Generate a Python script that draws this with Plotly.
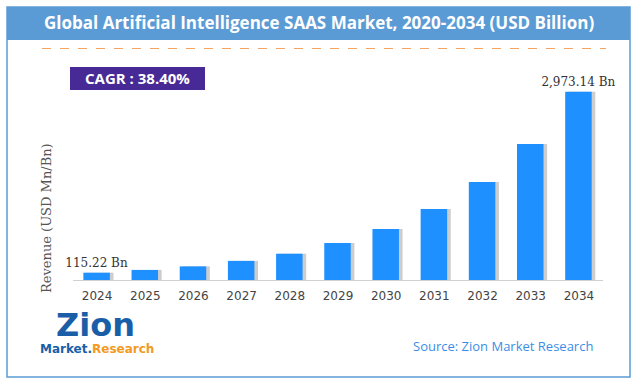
import plotly.graph_objects as go

years = ["2024", "2025", "2026", "2027", "2028", "2029", "2030", "2031", "2032", "2033", "2034"]
revenue = [115.22, 159.0, 215.0, 302.0, 415.0, 585.0, 806.0, 1122.0, 1549.0, 2149.0, 2973.14]
label_texts = ["115.22 Bn", "", "", "", "", "", "", "", "", "", "2,973.14 Bn"]

W, H = 637, 382
def px(x): return x / W
def py(y): return 1 - y / H

fig = go.Figure()
# shadow
fig.add_trace(go.Bar(x=years, y=revenue, width=0.56, offset=-0.22,
                     marker=dict(color="rgba(90,90,90,0.3)", line=dict(width=0)),
                     hoverinfo="skip", showlegend=False))
fig.add_trace(go.Bar(x=years, y=revenue, width=0.55, offset=-0.285,
                     marker=dict(color="#1e90ff", line=dict(width=0)),
                     text=label_texts, textposition="outside", cliponaxis=False,
                     constraintext="none",
                     textfont=dict(family="DejaVu Serif", size=12, color="#333"),
                     showlegend=False))

fig.update_layout(
    width=W, height=H, margin=dict(l=0, r=0, t=0, b=0),
    paper_bgcolor="white", plot_bgcolor="white",
    barmode="overlay", bargap=0.4,
    xaxis=dict(domain=[px(73), px(603)], showline=True, linecolor="#d0d0d0", linewidth=1,
               ticks="", ticklabelstandoff=5,
               tickfont=dict(family="DejaVu Sans", size=12, color="#444"),
               showgrid=False, fixedrange=True),
    yaxis=dict(domain=[py(280), py(80)], range=[0, 3160], visible=False, showgrid=False),
    shapes=[
        dict(type="rect", xref="paper", yref="paper", x0=px(7), x1=px(630), y0=py(377), y1=py(7),
             line=dict(color="#5b9bd5", width=1.5), fillcolor="rgba(0,0,0,0)", layer="below"),
        dict(type="rect", xref="paper", yref="paper", x0=px(7), x1=px(630), y0=py(40), y1=py(7),
             line=dict(width=0), fillcolor="#5b9bd5", layer="below"),
        dict(type="line", xref="paper", yref="paper", x0=px(42), x1=px(606), y0=py(48.5), y1=py(48.5),
             line=dict(color="#f4a460", width=1, dash="dash")),
        dict(type="rect", xref="paper", yref="paper", x0=px(70), x1=px(205), y0=py(90), y1=py(67),
             line=dict(width=0), fillcolor="#482a96", layer="below"),
    ],
    annotations=[
        dict(text="<b>Global Artificial Intelligence SAAS Market, 2020-2034 (USD Billion)</b>",
             xref="paper", yref="paper", x=px(319), y=py(23), xanchor="center", yanchor="middle",
             showarrow=False, font=dict(family="Open Sans", size=17, color="white")),
        dict(text="<b>CAGR : 38.40%</b>", xref="paper", yref="paper", x=px(137), y=py(78.5),
             xanchor="center", yanchor="middle", showarrow=False,
             font=dict(family="Open Sans", size=15, color="white")),
        dict(text="Revenue (USD Mn/Bn)", xref="paper", yref="paper", x=px(46), y=py(218),
             xanchor="center", yanchor="middle", textangle=-90, showarrow=False,
             font=dict(family="DejaVu Serif", size=13, color="#555")),
        dict(text="Source: Zion Market Research", xref="paper", yref="paper", x=px(503), y=py(346),
             xanchor="center", yanchor="middle", showarrow=False,
             font=dict(family="Open Sans", size=13, color="#3a8ee6")),
        dict(text="<b>Zion</b>", xref="paper", yref="paper",
             x=px(96), y=py(325), xanchor="center", yanchor="middle", showarrow=False,
             font=dict(family="DejaVu Sans", size=32, color="#1a5ea8")),
        dict(text="<b><span style='color:#1a5ea8'>Market.</span><span style='color:#f29a1f'>Research</span></b>",
             xref="paper", yref="paper", x=px(97), y=py(349), xanchor="center", yanchor="middle",
             showarrow=False, font=dict(family="DejaVu Sans", size=12)),
    ],
)

fig.write_html("out.html", config={"displayModeBar": False},
               post_script="document.body.style.margin='0';")
